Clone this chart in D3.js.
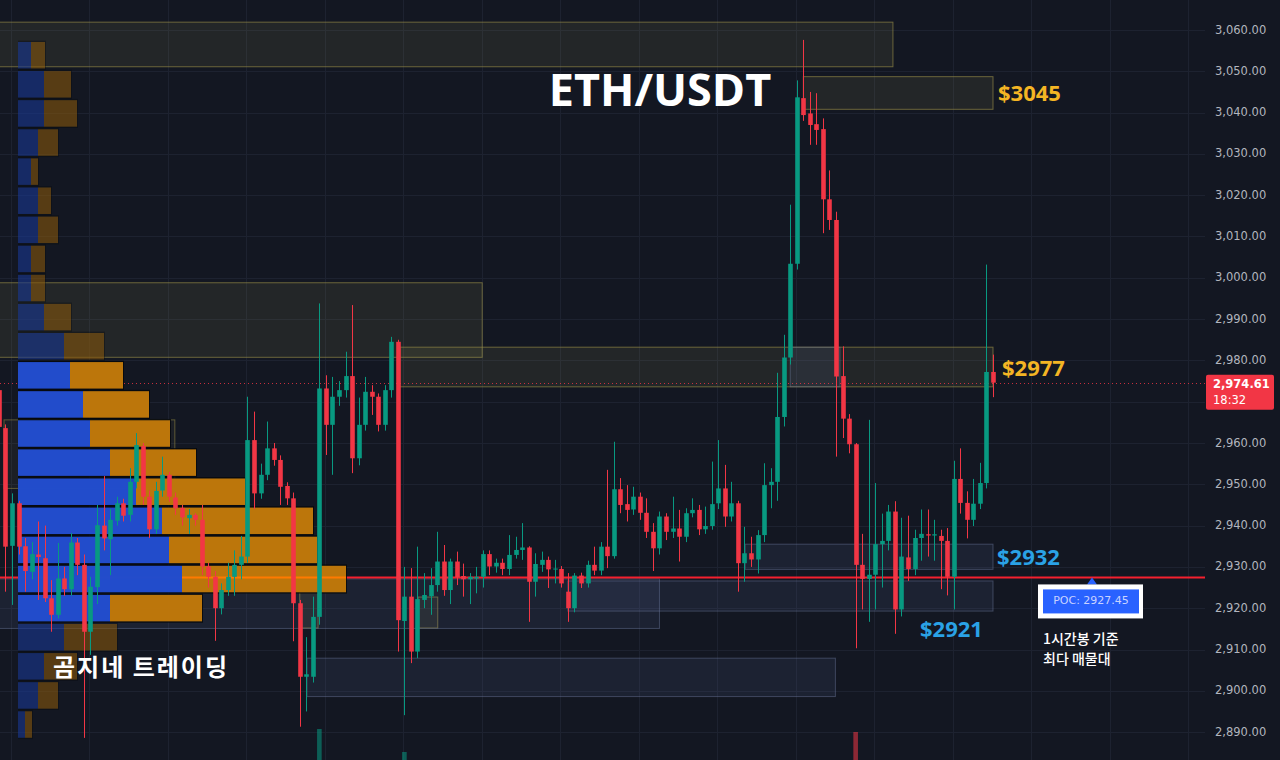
<!DOCTYPE html>
<html><head><meta charset="utf-8">
<script src="https://cdn.jsdelivr.net/npm/d3@7"></script>
<style>
html,body{margin:0;padding:0;background:#131722;overflow:hidden;}
svg{display:block;}
</style></head><body>
<svg id="chart" width="1280" height="760"></svg>
<script>
// ---------------- DATA ----------------
const opens = [2972.8,2963.6,2935.1,2945.4,2935.0,2928.8,2933.0,2932.1,2922.4,2918.4,2927.2,2924.6,2935.9,2930.5,2914.3,2925.1,2940.0,2936.7,2941.2,2945.4,2942.6,2950.6,2959.3,2947.0,2939.1,2948.5,2952.3,2946.8,2944.3,2941.8,2942.6,2941.4,2930.1,2927.6,2920.0,2924.4,2927.6,2930.5,2932.5,2960.7,2947.8,2952.3,2958.7,2955.9,2949.6,2946.6,2921.2,2903.4,2903.4,2917.9,2973.2,2964.4,2971.2,2972.8,2976.2,2956.3,2964.4,2972.4,2971.2,2964.4,2972.8,2984.5,2916.9,2922.8,2909.5,2922.0,2922.9,2925.6,2931.3,2924.4,2931.3,2927.8,2927.0,2927.2,2927.6,2933.1,2930.1,2931.0,2929.5,2932.9,2934.1,2934.7,2926.4,2930.5,2931.7,2929.4,2929.5,2924.0,2920.0,2927.9,2926.0,2930.5,2929.1,2934.9,2932.6,2948.8,2945.2,2943.9,2947.0,2943.1,2938.5,2934.5,2942.2,2938.5,2939.3,2937.3,2943.0,2943.8,2939.1,2939.9,2945.4,2949.0,2942.2,2945.4,2930.9,2933.3,2931.8,2937.7,2949.8,2950.6,2966.3,2980.7,3003.4,3043.5,3039.8,3037.2,3036.0,3019.0,3014.0,2976.2,2965.9,2959.7,2930.5,2927.1,2928.1,2935.5,2936.3,2943.4,2919.7,2932.3,2929.5,2937.0,2937.9,2937.6,2937.5,2936.3,2927.6,2951.3,2945.5,2941.4,2945.3,2950.3,2977.2];
const highs = [2974.0,2964.5,2947.8,2946.0,2937.0,2936.0,2941.0,2940.0,2926.8,2935.8,2930.0,2938.2,2937.0,2933.0,2927.6,2945.0,2952.0,2944.0,2947.0,2946.5,2953.9,2962.4,2960.0,2948.5,2950.6,2956.7,2953.0,2948.0,2945.0,2944.0,2943.0,2945.0,2931.0,2929.0,2926.0,2931.0,2934.0,2937.5,2971.2,2967.6,2955.0,2965.2,2960.0,2957.0,2950.5,2948.0,2922.0,2913.0,2922.8,2993.8,2976.4,2976.0,2975.0,2982.1,2993.4,2971.0,2976.0,2974.0,2972.0,2974.0,2985.7,2985.0,2930.0,2929.7,2934.9,2928.5,2929.7,2938.5,2935.3,2932.0,2933.7,2930.8,2928.5,2930.0,2934.0,2934.0,2932.0,2932.0,2937.7,2937.3,2940.6,2935.0,2933.3,2933.7,2932.5,2931.7,2930.2,2928.5,2928.5,2928.6,2931.5,2934.9,2936.0,2953.5,2960.3,2951.5,2949.8,2949.4,2948.0,2946.6,2940.6,2943.4,2943.0,2947.0,2943.8,2944.2,2946.6,2945.0,2944.6,2955.5,2960.7,2954.7,2950.6,2946.0,2939.7,2937.3,2938.9,2955.1,2953.9,2977.0,2986.2,3017.7,3047.8,3057.6,3045.0,3044.7,3038.6,3026.0,3016.0,2983.4,2967.0,2960.0,2938.0,2965.6,2950.3,2942.9,2945.0,2945.9,2941.9,2942.4,2939.0,2943.9,2943.9,2941.4,2939.0,2939.4,2955.7,2958.7,2948.3,2951.3,2955.2,3003.2,2981.4];
const lows = [2962.5,2924.0,2920.8,2933.0,2924.0,2927.0,2922.0,2921.5,2914.3,2917.5,2923.0,2923.0,2928.0,2888.6,2908.7,2921.0,2934.0,2928.0,2940.0,2941.0,2941.0,2949.0,2945.0,2937.0,2938.0,2947.0,2945.8,2942.6,2940.0,2938.0,2940.0,2928.0,2925.0,2912.1,2918.5,2923.0,2923.0,2927.0,2931.0,2944.0,2946.5,2951.0,2954.5,2945.0,2945.0,2912.0,2891.3,2895.0,2902.0,2916.0,2957.1,2952.3,2969.0,2971.0,2952.7,2954.6,2963.0,2966.8,2962.8,2963.0,2971.0,2909.5,2894.1,2906.7,2907.9,2920.0,2918.4,2924.0,2923.0,2921.0,2925.6,2922.8,2921.0,2923.6,2925.0,2928.0,2928.6,2928.0,2928.0,2932.0,2931.7,2916.7,2922.8,2928.8,2924.9,2926.0,2925.0,2916.7,2919.0,2924.9,2925.0,2928.0,2928.0,2929.7,2932.0,2943.0,2941.0,2942.6,2941.4,2937.0,2929.0,2933.0,2936.5,2937.0,2931.3,2936.0,2942.0,2937.7,2938.0,2939.0,2944.0,2939.7,2941.0,2924.0,2926.4,2930.0,2928.4,2936.0,2944.2,2946.0,2964.0,2979.0,3002.0,3038.0,3032.2,3032.2,3010.8,3011.6,2956.7,2961.2,2957.5,2910.3,2919.7,2916.7,2919.7,2925.0,2934.0,2913.8,2918.0,2926.6,2928.0,2931.5,2932.5,2931.5,2924.6,2923.1,2919.7,2942.9,2936.9,2939.9,2944.0,2949.0,2971.1];
const closes = [2963.9,2934.9,2945.4,2934.9,2929.0,2933.1,2932.4,2922.4,2918.4,2927.2,2924.6,2935.9,2930.5,2914.3,2925.2,2940.1,2936.9,2941.4,2945.4,2942.4,2950.6,2959.5,2947.0,2939.1,2948.4,2952.3,2947.0,2944.2,2942.0,2942.6,2941.4,2930.1,2927.6,2920.0,2924.4,2927.6,2930.5,2932.5,2960.7,2947.8,2952.3,2958.7,2955.9,2949.4,2946.6,2921.2,2903.4,2904.0,2917.9,2973.2,2964.4,2971.2,2972.8,2976.2,2956.3,2964.4,2972.4,2971.2,2964.4,2972.8,2984.5,2917.1,2922.8,2909.5,2922.2,2923.2,2925.6,2931.3,2924.4,2931.3,2927.5,2927.0,2927.6,2927.6,2933.1,2930.1,2931.0,2929.5,2932.9,2934.1,2934.7,2926.4,2930.7,2931.7,2929.4,2929.6,2926.0,2920.0,2927.9,2926.0,2930.5,2929.1,2934.9,2932.6,2948.8,2945.0,2943.8,2947.0,2943.1,2938.5,2934.5,2942.2,2938.5,2939.3,2937.3,2943.0,2943.8,2939.1,2939.9,2945.2,2949.0,2942.2,2945.4,2930.9,2933.3,2931.8,2937.7,2949.8,2950.6,2966.3,2980.7,3003.4,3043.7,3039.4,3037.0,3035.8,3019.0,3014.0,2976.1,2965.9,2959.7,2930.5,2927.1,2928.1,2935.5,2936.3,2943.4,2919.7,2932.5,2929.5,2937.0,2938.0,2937.6,2937.9,2936.3,2927.6,2951.3,2945.5,2941.4,2945.3,2950.3,2977.2,2974.61];

const priceTicks = [2890,2900,2910,2920,2930,2940,2950,2960,2970,2980,2990,3000,3010,3020,3030,3040,3050,3060];
const timeGridIdx = [1.83,13.83,25.83,37.83,49.83,61.83,73.83,85.83,97.83,109.83,121.83,133.83,145.83,157.83,169.83,181.83];

// volume profile (price bins from top), up (blue) / down (orange) volume
const profileTopPrice = 3057.1;
const profileBinSize = 7.046;
const profileUp   = [13,26,26,20,13,20,20,13,13,26,46,52,65,72,92,118,144,151,164,92,46,26,20,7];
const profileDown = [14,27,33,20,7,13,20,14,14,27,40,53,66,80,86,109,151,148,164,92,53,33,20,7];
const valueAreaRows = [11,19];   // first/last row of value area
const pocRow = 18;
const pocPrice = 2927.45;
const lastPrice = 2974.61;
const lastTime = "18:32";

// zones: [startIdx, endIdx, topPrice, bottomPrice]
const supplyZones = [[-1,136.7,3061.9,3051.1],[123.0,152,3048.7,3040.8],[-1,73.9,2998.8,2980.75],[61.3,152,2983.2,2973.6],[64.1,67.1,2922.7,2915.2],[46.0,48.8,2923.9,2915.2]];
const supplyOutline = [[0.78,26.9,2965.6,2949.0]];
const demandZones = [[-1,101.0,2927.1,2915.1],[87.0,152,2926.6,2919.3],[114.1,152,2935.5,2929.4],[47.1,127.9,2907.9,2898.6],[121,128.6,2983.2,2973.6]];

const volIdx = [49,62,131];
const volVals = [3100,800,2800];

const levelLabels = ["$3045","$2977","$2932","$2921"];
const levelPrices = [3045,2977,2932,2921];

// ---------------- CHART ----------------
const svg = d3.select("#chart");
const W = 1280, H = 760, chartRight = 1205;
const x = d3.scaleLinear().domain([0,152]).range([-1.1,993.0]);
const y = d3.scaleLinear().domain([2890,3060]).range([732.1,30]);
const px = d3.scaleLinear().domain([0,328]).range([18,346]);
const vy = d3.scaleLinear().domain([0,3100]).range([760,729]);

const up="#089981", dn="#f23645";
svg.append("rect").attr("width",W).attr("height",H).attr("fill","#131722");

const plot = svg.append("g");
plot.append("clipPath").attr("id","clip").append("rect").attr("x",0).attr("y",0).attr("width",chartRight).attr("height",H);
const g = plot.append("g").attr("clip-path","url(#clip)");

// grid
g.selectAll(".hg").data(priceTicks).join("line")
  .attr("x1",0).attr("x2",chartRight).attr("y1",d=>Math.round(y(d))+0.5).attr("y2",d=>Math.round(y(d))+0.5)
  .attr("stroke","#1d2230").attr("stroke-width",1);
g.selectAll(".vg").data(timeGridIdx).join("line")
  .attr("y1",0).attr("y2",H).attr("x1",d=>Math.round(x(d))+0.5).attr("x2",d=>Math.round(x(d))+0.5)
  .attr("stroke","#1d2230").attr("stroke-width",1);

// zones
function zone(data, fill, stroke){
  g.append("g").selectAll("rect").data(data).join("rect")
    .attr("x",d=>x(d[0])).attr("width",d=>x(d[1])-x(d[0]))
    .attr("y",d=>y(d[2])).attr("height",d=>y(d[3])-y(d[2]))
    .attr("fill",fill).attr("stroke",stroke).attr("stroke-width",1);
}
zone(supplyZones,"rgba(180,175,95,0.10)","rgba(150,140,70,0.65)");
zone(supplyOutline,"rgba(180,175,95,0.06)","rgba(150,140,70,0.55)");
zone(demandZones,"rgba(90,112,165,0.13)","rgba(110,125,160,0.45)");

// POC line
g.append("line").attr("x1",0).attr("x2",chartRight).attr("y1",y(pocPrice)).attr("y2",y(pocPrice))
  .attr("stroke","#f5202e").attr("stroke-width",2);
// current price dotted line
g.append("line").attr("x1",0).attr("x2",chartRight).attr("y1",Math.round(y(lastPrice))+0.5).attr("y2",Math.round(y(lastPrice))+0.5)
  .attr("stroke",dn).attr("stroke-width",1).attr("stroke-dasharray","1,3").attr("opacity",0.8);

// volume profile
const rows = profileUp.map((u,k)=>({k,u,d:profileDown[k],top:profileTopPrice-k*profileBinSize}));
const prof = g.append("g");
rows.forEach(r=>{
  const inVA = r.k>=valueAreaRows[0] && r.k<=valueAreaRows[1];
  const y0 = y(r.top), h = y(r.top-profileBinSize)-y(r.top)-2.6;
  const op = inVA?0.95:0.4;
  prof.append("rect").attr("x",px(0)).attr("y",y0-1.3).attr("width",px(r.u+r.d)-px(0)+1).attr("height",h+2.6)
    .attr("fill","#06080c").attr("opacity",inVA?0.85:0.35);
  prof.append("rect").attr("x",px(0)).attr("y",y0).attr("width",px(r.u)-px(0)).attr("height",h)
    .attr("fill","#2450d6").attr("opacity",op);
  prof.append("rect").attr("x",px(r.u)).attr("y",y0).attr("width",px(r.u+r.d)-px(r.u)).attr("height",h)
    .attr("fill","#c67c0c").attr("opacity",op);
});
const pr = rows[pocRow];
prof.append("line").attr("x1",px(pr.u)).attr("x2",px(pr.u+pr.d)).attr("y1",y(pocPrice)).attr("y2",y(pocPrice))
  .attr("stroke","#ff7a00").attr("stroke-width",2);

// volume bars
g.append("g").selectAll("rect").data(volIdx).join("rect")
  .attr("x",(d)=>x(d)-2.3).attr("width",4.6)
  .attr("y",(d,i)=>vy(volVals[i])).attr("height",(d,i)=>vy(0)-vy(volVals[i]))
  .attr("fill",d=> closes[d]>=opens[d]?up:dn).attr("opacity",0.55);

// candles
const candles = opens.map((o,i)=>({i,o,h:highs[i],l:lows[i],c:closes[i]}));
const cg = g.append("g");
cg.selectAll("line").data(candles).join("line")
  .attr("x1",d=>Math.round(x(d.i))+0.5).attr("x2",d=>Math.round(x(d.i))+0.5)
  .attr("y1",d=>y(d.h)).attr("y2",d=>y(d.l))
  .attr("stroke",d=>d.c>=d.o?up:dn).attr("stroke-width",1);
cg.selectAll("rect").data(candles).join("rect")
  .attr("x",d=>Math.round(x(d.i))+0.5-2.3).attr("width",4.6)
  .attr("y",d=>y(Math.max(d.o,d.c))).attr("height",d=>Math.max(1,Math.abs(y(d.o)-y(d.c))))
  .attr("fill",d=>d.c>=d.o?up:dn);

// price axis (labels hidden under the last-price tag are not drawn)
const fmt = d3.format(",.2f");
const ly = y(lastPrice);
const tagTop = ly-8, tagBot = ly+27;
const visibleTicks = priceTicks.filter(d=> y(d) < tagTop-6 || y(d) > tagBot+6);
svg.append("g").selectAll("text").data(visibleTicks).join("text")
  .attr("x",1215).attr("y",d=>y(d)).attr("dominant-baseline","middle")
  .attr("fill","#b2b5be").attr("font-family","DejaVu Sans, sans-serif").attr("font-size",11.5)
  .text(d=>fmt(d));
// last price tag
svg.append("rect").attr("x",1206).attr("y",tagTop).attr("width",68).attr("height",tagBot-tagTop).attr("rx",2).attr("fill",dn);
svg.append("text").attr("x",1213).attr("y",ly+5.5).attr("fill","#fff").attr("font-weight","bold")
  .attr("font-family","DejaVu Sans, sans-serif").attr("font-size",11.5).text(fmt(lastPrice));
svg.append("text").attr("x",1213).attr("y",ly+21.5).attr("fill","#fff")
  .attr("font-family","DejaVu Sans, sans-serif").attr("font-size",11.5).text(lastTime);

// title & labels
svg.append("text").attr("x",660).attr("y",106).attr("text-anchor","middle").attr("fill","#fff")
  .attr("font-family","Open Sans, sans-serif").attr("font-weight","bold").attr("font-size",45).text("ETH/USDT");
const lblX = [998,1002,997,920];
const lblDy = [9,3,6,0];
const lblCol = ["#f4b524","#f4b524","#2aa2e6","#2aa2e6"];
levelLabels.forEach((t,i)=>{
  const yy = i===3 ? y(2916)+12 : y(levelPrices[i]) + lblDy[i];
  svg.append("text").attr("x",lblX[i]).attr("y",yy).attr("fill",lblCol[i])
    .attr("font-family","Open Sans, sans-serif").attr("font-weight","bold").attr("font-size",22).text(t);
});

svg.append("text").attr("x",53).attr("y",676).attr("fill","#fff")
  .attr("font-family","Noto Sans CJK KR, sans-serif").attr("font-weight","bold").attr("font-size",24)
  .attr("letter-spacing",2).text("곰지네 트레이딩");

// POC callout
const pocY = y(pocPrice);
svg.append("path").attr("d",`M1087,${pocY+7} L1097,${pocY+7} L1092,${pocY}Z`).attr("fill","#2962ff");
svg.append("rect").attr("x",1038).attr("y",pocY+7).attr("width",105).attr("height",34).attr("fill","#ffffff");
svg.append("rect").attr("x",1043).attr("y",pocY+12).attr("width",96).attr("height",24).attr("fill","#2962ff");
svg.append("text").attr("x",1091).attr("y",pocY+24).attr("text-anchor","middle").attr("dominant-baseline","middle")
  .attr("fill","#c9d3ff").attr("font-family","DejaVu Sans, sans-serif").attr("font-size",11).text("POC: "+pocPrice.toFixed(2));
svg.append("text").attr("x",1043).attr("y",644).attr("fill","#fff").attr("font-family","Noto Sans CJK KR, sans-serif")
  .attr("font-weight",500).attr("font-size",14).text("1시간봉 기준");
svg.append("text").attr("x",1043).attr("y",664).attr("fill","#fff").attr("font-family","Noto Sans CJK KR, sans-serif")
  .attr("font-weight",500).attr("font-size",14).text("최다 매물대");
</script>
</body></html>
